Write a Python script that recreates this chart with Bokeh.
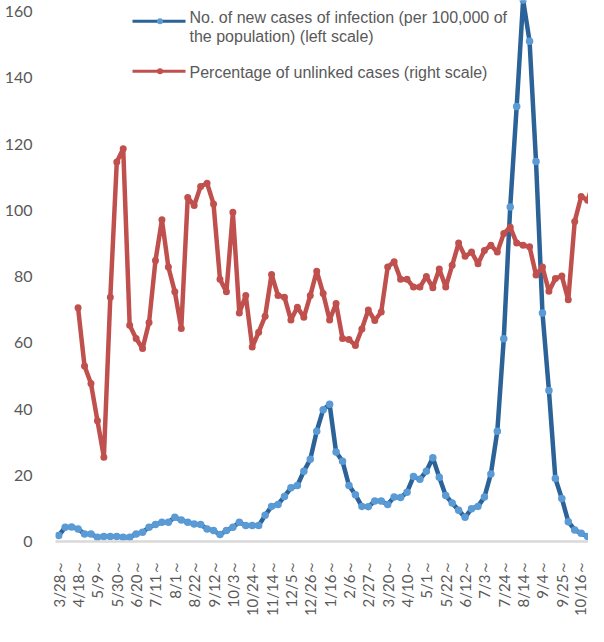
import math
from bokeh.plotting import figure
from bokeh.models import Range1d, FixedTicker, Label
from bokeh.embed import file_html
from bokeh.resources import INLINE

# ---- data (weekly, first week starting 3/28/2020) ----
tick_labels = ["3/28～", "4/18～", "5/9～", "5/30～", "6/20～", "7/11～", "8/1～",
               "8/22～", "9/12～", "10/3～", "10/24～", "11/14～", "12/5～", "12/26～",
               "1/16～", "2/6～", "2/27～", "3/20～", "4/10～", "5/1～", "5/22～",
               "6/12～", "7/3～", "7/24～", "8/14～", "9/4～", "9/25～", "10/16～"]

# No. of new cases of infection (per 100,000) - left scale
new_cases = [1.8, 4.3, 4.4, 3.8, 2.3, 2.3, 1.3, 1.5, 1.5, 1.5,
             1.3, 1.3, 2.3, 2.8, 4.3, 5.1, 5.8, 5.8, 7.3, 6.5,
             5.8, 5.3, 5.1, 3.8, 3.3, 2.1, 3.3, 4.3, 5.8, 4.8,
             4.8, 4.8, 7.9, 10.6, 11.2, 13.6, 16.2, 16.9, 21.2, 24.8,
             33.3, 39.8, 41.4, 27.0, 24.2, 16.9, 14.1, 10.6, 10.5, 12.2,
             12.2, 11.2, 13.4, 13.3, 14.9, 19.6, 18.8, 21.2, 25.3, 19.4,
             13.9, 11.6, 9.4, 7.3, 9.9, 10.6, 13.4, 20.4, 33.3, 61.2,
             101.0, 131.3, 163.5, 151.0, 114.7, 69.0, 45.6, 19.0, 13.0, 6.0,
             3.5, 2.5, 1.5, 1.3]

# Percentage of unlinked cases (%) - right scale, starts at week index 3
unlinked_start = 3
unlinked_pct = [44.1, 33.1, 29.8, 22.8, 15.9, 46.1, 71.6, 74.1, 40.8, 38.3,
                36.4, 41.3, 53.0, 60.7, 51.8, 47.1, 40.2, 64.9, 63.4, 67.0,
                67.6, 63.7, 49.5, 47.1, 62.1, 43.1, 46.4, 36.7, 39.5, 42.5,
                50.4, 46.4, 46.1, 41.8, 44.2, 42.3, 46.4, 51.0, 46.8, 41.8,
                44.9, 38.3, 38.1, 37.0, 40.1, 43.7, 41.7, 43.3, 51.8, 52.8,
                49.5, 49.5, 48.0, 48.0, 50.0, 47.9, 51.4, 48.0, 52.1, 56.3,
                53.8, 54.6, 52.4, 54.9, 55.9, 54.6, 58.1, 59.3, 56.3, 55.9,
                55.6, 50.3, 51.8, 47.2, 49.6, 50.1, 45.6, 60.4, 65.1, 64.4,
                68.1]

legend_labels = ["No. of new cases of infection (per 100,000 of",
                 "the population) (left scale)",
                 "Percentage of unlinked cases (right scale)"]

BLUE_LINE = "#2B6298"
BLUE_MARK = "#5B9BD5"
RED = "#C0504D"
GREY = "#595959"

W, H = 588, 626
BL = 55
FH = 541
BB = H - FH
FW = W - BL
X0 = -0.5
PX_PER_WEEK = 6.45
X1 = X0 + FW / PX_PER_WEEK
YMAX = 160.0 * FH / (FH - 11)
RMAX = YMAX * 100.0 / 160.0

p = figure(width=W, height=H, output_backend="svg", toolbar_location=None,
           x_range=Range1d(X0, X1), y_range=Range1d(0, YMAX),
           min_border_left=BL, min_border_right=0, min_border_top=0,
           min_border_bottom=BB)
p.extra_y_ranges = {"right": Range1d(0, RMAX)}
p.outline_line_color = None
p.xgrid.visible = False
p.ygrid.visible = False
p.background_fill_color = "white"
p.border_fill_color = "white"

# axes
p.yaxis.ticker = FixedTicker(ticks=list(range(0, 161, 20)))
p.yaxis.axis_line_color = None
p.yaxis.major_tick_line_color = None
p.yaxis.minor_tick_line_color = None
p.yaxis.major_label_standoff = 17
p.yaxis.major_label_text_font = "Lato"
p.yaxis.major_label_text_font_size = "16px"
p.yaxis.major_label_text_color = GREY

tick_pos = [3 * k for k in range(len(tick_labels))]
p.xaxis.ticker = FixedTicker(ticks=tick_pos)
p.xaxis.major_label_overrides = {t: lab for t, lab in zip(tick_pos, tick_labels)}
p.xaxis.major_label_orientation = math.pi / 2
p.xaxis.axis_line_color = "#D9D9D9"
p.xaxis.axis_line_width = 2.5
p.xaxis.major_tick_line_color = None
p.xaxis.minor_tick_line_color = None
p.xaxis.major_label_standoff = 12
p.xaxis.major_label_text_font = "Lato"
p.xaxis.major_label_text_font_size = "15px"
p.xaxis.major_label_text_color = GREY

# series
xb = list(range(len(new_cases)))
p.line(xb, new_cases, line_color=BLUE_LINE, line_width=4.5, line_join="round")
p.scatter(xb, new_cases, size=7.5, fill_color=BLUE_MARK, line_color=None)

xr = [unlinked_start + k for k in range(len(unlinked_pct))]
p.line(xr, unlinked_pct, line_color=RED, line_width=4.5, line_join="round",
       y_range_name="right")
p.scatter(xr, unlinked_pct, size=7, fill_color=RED, line_color=None,
          y_range_name="right")

# legend (placed by screen position converted to data coordinates)
def sx(px):
    return X0 + (px - BL) / PX_PER_WEEK

def sy(py):
    return (FH - py) / FH * YMAX

for col_line, col_mark, ly in [(BLUE_LINE, BLUE_MARK, 20.7), (RED, RED, 70.7)]:
    p.line([sx(132), sx(185)], [sy(ly), sy(ly)], line_color=col_line, line_width=3)
    p.scatter([sx(159.5)], [sy(ly)], size=6, fill_color=col_mark, line_color=None)

for txt, ty in zip(legend_labels, [16.7, 35.5, 71.5]):
    p.add_layout(Label(x=sx(189), y=sy(ty), text=txt, text_baseline="middle",
                       text_align="left", text_font="Liberation Sans",
                       text_font_size="16px", text_color=GREY))

open("out.html", "w").write(file_html(p, INLINE))
